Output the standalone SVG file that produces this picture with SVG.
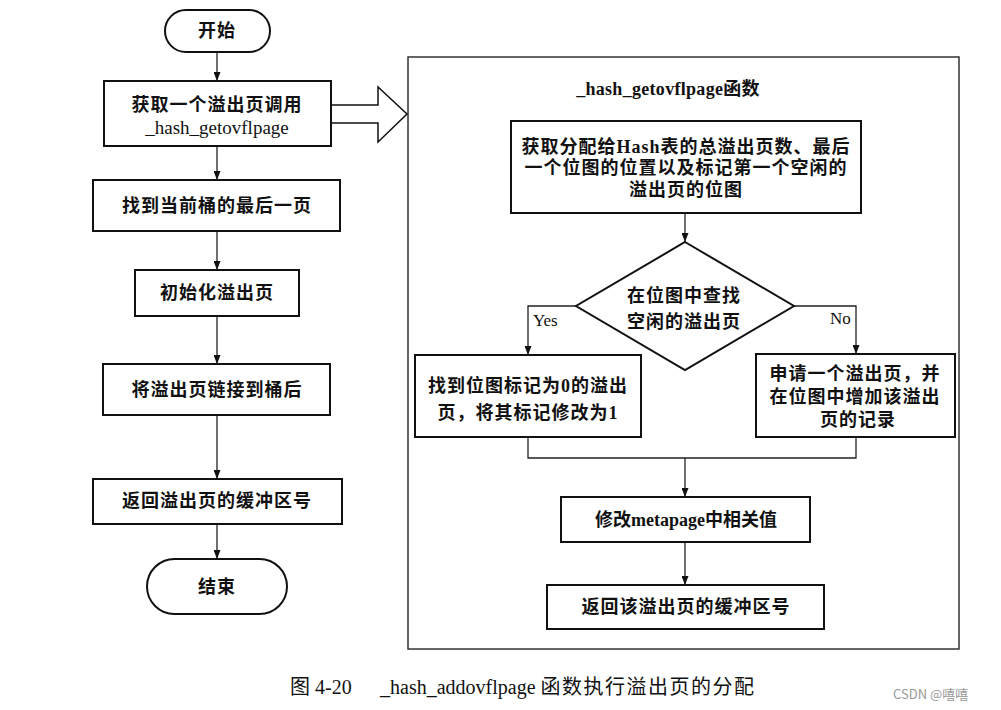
<svg xmlns="http://www.w3.org/2000/svg" width="1001" height="710" viewBox="0 0 1001 710">
<style>
.bx{fill:#fff;stroke:#111;stroke-width:2}
.cn{fill:none;stroke:#222;stroke-width:1.3}
.t{font-family:"Liberation Serif","Noto Sans CJK SC",serif;font-size:18px;font-weight:bold;text-anchor:middle;dominant-baseline:central;letter-spacing:1px;fill:#111}
.r{font-weight:normal;letter-spacing:0;font-size:19px}
.lb{font-family:"Liberation Serif","Noto Sans CJK SC",serif;font-size:17px;dominant-baseline:central;fill:#111}
.cap{font-family:"Liberation Serif","Noto Sans CJK SC",serif;font-size:20px;fill:#111}
</style>
<defs>
<marker id="ah" viewBox="0 0 9 7" markerWidth="9" markerHeight="7" refX="9" refY="3.5" orient="auto" markerUnits="userSpaceOnUse">
<path d="M0,0 L9,3.5 L0,7 z" fill="#111"/>
</marker>
</defs>
<rect width="1001" height="710" fill="#fff"/>

<g id="outline">
<rect x="408" y="57" width="551" height="592" fill="none" stroke="#333" stroke-width="1.5"/>
<text class="t" x="668" y="89" style="letter-spacing:0.3px">_hash_getovflpage函数</text>
</g>

<g id="connectors">
<line class="cn" x1="217" y1="52" x2="217" y2="81" marker-end="url(#ah)"/>
<line class="cn" x1="217" y1="146" x2="217" y2="180" marker-end="url(#ah)"/>
<line class="cn" x1="217" y1="231" x2="217" y2="270" marker-end="url(#ah)"/>
<line class="cn" x1="217" y1="316" x2="217" y2="364" marker-end="url(#ah)"/>
<line class="cn" x1="217" y1="415" x2="217" y2="479" marker-end="url(#ah)"/>
<line class="cn" x1="217" y1="524" x2="217" y2="559" marker-end="url(#ah)"/>
<polygon points="331,105 378,105 378,87 407,114 378,142 378,123 331,123" fill="#fff" stroke="#111" stroke-width="1.5"/>
<line class="cn" x1="685" y1="213" x2="685" y2="242" marker-end="url(#ah)"/>
<polyline class="cn" points="576,306 528,306 528,355" marker-end="url(#ah)"/>
<polyline class="cn" points="794,306 856,306 856,354" marker-end="url(#ah)"/>
<polyline class="cn" points="528,437 528,458 856,458 856,437"/>
<line class="cn" x1="685" y1="458" x2="685" y2="497" marker-end="url(#ah)"/>
<line class="cn" x1="685" y1="542" x2="685" y2="585" marker-end="url(#ah)"/>
<text class="lb" x="533" y="320">Yes</text>
<text class="lb" x="830" y="318">No</text>
</g>

<g id="start">
<rect class="bx" x="165" y="10" width="105" height="42" rx="21"/>
<text class="t" x="217" y="31">开始</text>
</g>
<g id="get-ovfl">
<rect class="bx" x="104" y="81" width="227" height="65"/>
<text class="t" x="217" y="105">获取一个溢出页调用</text>
<text class="t r" x="217" y="127">_hash_getovflpage</text>
</g>
<g id="find-last">
<rect class="bx" x="93" y="180" width="247" height="51"/>
<text class="t" x="217" y="206">找到当前桶的最后一页</text>
</g>
<g id="init-ovfl">
<rect class="bx" x="135" y="270" width="164" height="46"/>
<text class="t" x="217" y="293">初始化溢出页</text>
</g>
<g id="link-ovfl">
<rect class="bx" x="103" y="364" width="227" height="51"/>
<text class="t" x="217" y="390">将溢出页链接到桶后</text>
</g>
<g id="return-buf">
<rect class="bx" x="93" y="479" width="249" height="45"/>
<text class="t" x="217" y="501">返回溢出页的缓冲区号</text>
</g>
<g id="end">
<rect class="bx" x="147" y="559" width="140" height="55" rx="27.5"/>
<text class="t" x="217" y="587">结束</text>
</g>

<g id="get-info">
<rect class="bx" x="511" y="121" width="350" height="92"/>
<text class="t" x="686" y="147">获取分配给Hash表的总溢出页数、最后</text>
<text class="t" x="686" y="168">一个位图的位置以及标记第一个空闲的</text>
<text class="t" x="686" y="190">溢出页的位图</text>
</g>
<g id="search">
<polygon points="685,242 794,306 685,370 576,306" fill="#fff" stroke="#111" stroke-width="2"/>
<text class="t" x="684" y="296">在位图中查找</text>
<text class="t" x="684" y="322">空闲的溢出页</text>
</g>
<g id="found">
<rect class="bx" x="415" y="355" width="226" height="82"/>
<text class="t" x="528" y="386">找到位图标记为0的溢出</text>
<text class="t" x="528" y="413">页，将其标记修改为1</text>
</g>
<g id="alloc">
<rect class="bx" x="756" y="354" width="199" height="83"/>
<text class="t" x="855" y="374">申请一个溢出页，并</text>
<text class="t" x="855" y="397">在位图中增加该溢出</text>
<text class="t" x="858" y="420">页的记录</text>
</g>
<g id="modify-meta">
<rect class="bx" x="561" y="497" width="249" height="45"/>
<text class="t" x="686" y="520" style="letter-spacing:0">修改metapage中相关值</text>
</g>
<g id="return-ovfl">
<rect class="bx" x="547" y="585" width="277" height="44"/>
<text class="t" x="686" y="607">返回该溢出页的缓冲区号</text>
</g>

<g id="caption">
<text class="cap" x="290" y="694">图 4-20</text>
<text class="cap" x="380" y="694">_hash_addovflpage <tspan style="letter-spacing:1.5px">函数执行溢出页的分配</tspan></text>
<text x="893" y="699" style="font-family:'Noto Sans CJK SC',sans-serif;font-size:13px;fill:#999">CSDN @嘻嘻</text>
</g>
</svg>
